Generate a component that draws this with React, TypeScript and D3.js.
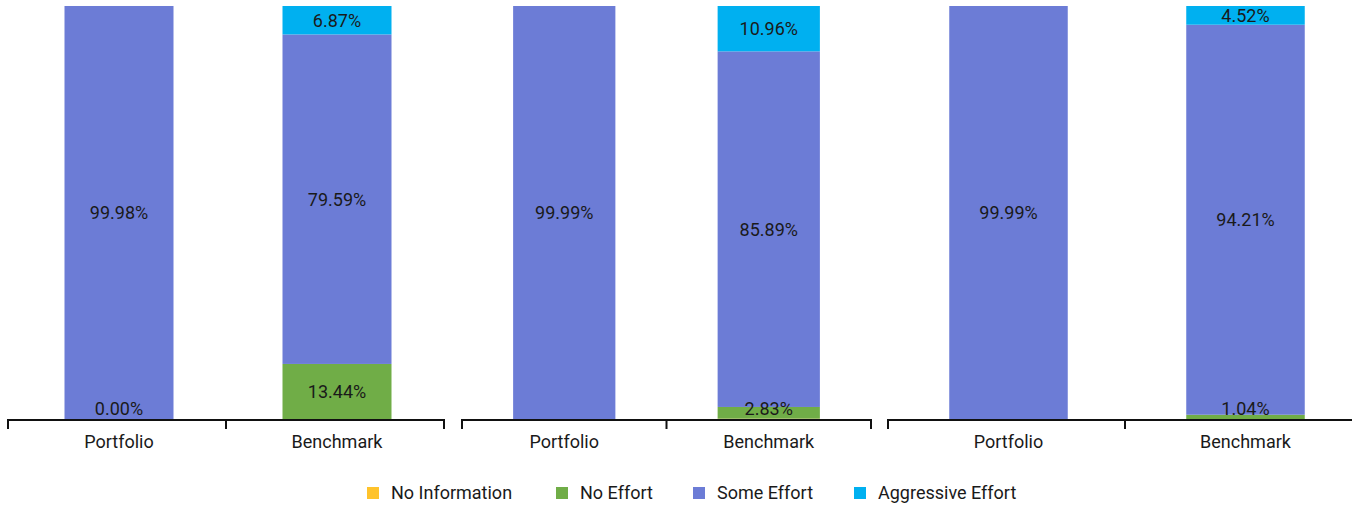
import { useMemo } from "react";
import * as d3 from "d3";

const W = 1352, H = 506;

const categories = ["Portfolio", "Benchmark"];
const seriesNames = ["No Information", "No Effort", "Some Effort", "Aggressive Effort"];
const seriesColors = ["#FFC32B", "#70AD47", "#6C7CD6", "#00B0F0"];

// one entry per bar: panel 1 (Portfolio, Benchmark), panel 2, panel 3
const noInformation = [0.02, 0.1, 0.01, 0.32, 0.01, 0.23];
const noEffort = [0.002, 13.44, null, 2.83, null, 1.04];
const someEffort = [99.98, 79.59, 99.99, 85.89, 99.99, 94.21];
const aggressiveEffort = [null, 6.87, null, 10.96, null, 4.52];

const PANELS = [
  [8, 444],
  [462, 871],
  [888, 1362],
];
const AXIS_Y = 420, TOP = 6;
const FONT = "Roboto, 'Noto Sans', sans-serif";
const FS = 18;
const LEGEND_X = [367, 556, 693, 854];

export default function App() {
  const y = useMemo(() => d3.scaleLinear([0, 100], [AXIS_Y, TOP]), []);
  const series = [noInformation, noEffort, someEffort, aggressiveEffort];

  return (
    <svg width={W} height={H} style={{ position: "fixed", left: 0, top: 0, background: "#fff" }}>
      {PANELS.map(([x0, x1], p) => {
        const x = d3.scaleBand<string>(categories, [x0, x1]).paddingInner(0.5).paddingOuter(0.25);
        const step = x.step();
        const edges = [x0, x0 + step, x1];
        const shift = p === 1 ? 0 : 2;
        return (
          <g key={p}>
            {categories.map((cat, c) => {
              const idx = p * 2 + c;
              const bx = x(cat)! + shift;
              let acc = 0;
              const segs = series.map((s, si) => {
                const v = s[idx] ?? 0;
                const seg = { si, v, has: s[idx] != null, y0: acc, y1: acc + v };
                acc += v;
                return seg;
              });
              return (
                <g key={cat}>
                  {segs.filter((s) => s.v > 0).map((s) => (
                    <rect key={s.si} x={bx} width={x.bandwidth()}
                      y={y(s.y1)} height={y(s.y0) - y(s.y1)} fill={seriesColors[s.si]} />
                  ))}
                  {segs.filter((s) => s.has && s.si > 0).map((s) => (
                    <text key={`l${s.si}`} x={bx + x.bandwidth() / 2}
                      y={Math.min((y(s.y0) + y(s.y1)) / 2, AXIS_Y - 12)}
                      textAnchor="middle" dominantBaseline="central"
                      fontSize={FS} fontFamily={FONT} fill="#1a1a1a">
                      {s.v.toFixed(2)}%
                    </text>
                  ))}
                  <text x={bx + x.bandwidth() / 2} y={448} textAnchor="middle"
                    fontSize={FS} fontFamily={FONT} fill="#1a1a1a">
                    {cat}
                  </text>
                </g>
              );
            })}
            <line x1={x0} x2={x1} y1={AXIS_Y} y2={AXIS_Y} stroke="#111" strokeWidth={2} />
            {edges.map((e, i) => (
              <line key={i} x1={e} x2={e} y1={AXIS_Y - 1} y2={AXIS_Y + 9} stroke="#111" strokeWidth={2} />
            ))}
          </g>
        );
      })}
      {seriesNames.map((name, i) => (
        <g key={name} transform={`translate(${LEGEND_X[i]},0)`}>
          <rect x={0} y={487} width={12} height={12} fill={seriesColors[i]} />
          <text x={24} y={499} fontSize={FS} fontFamily={FONT} fill="#1a1a1a">{name}</text>
        </g>
      ))}
    </svg>
  );
}
